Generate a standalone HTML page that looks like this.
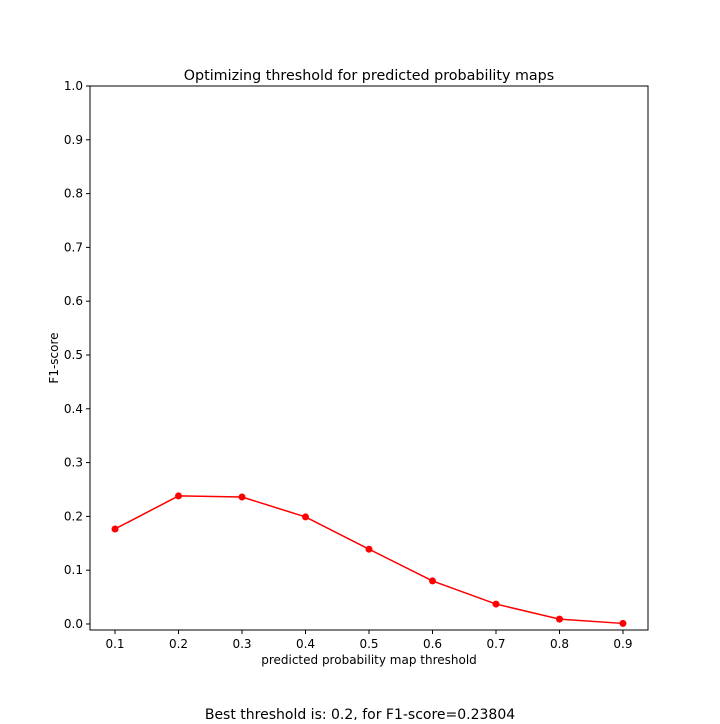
<!DOCTYPE html>
<html><head><meta charset="utf-8"><style>
body{margin:0;background:#fff;width:720px;height:720px;overflow:hidden;font-family:"DejaVu Sans","Liberation Sans",sans-serif;}
</style></head><body>
<svg id="chart" width="720" height="720" xmlns="http://www.w3.org/2000/svg" font-family="DejaVu Sans, Liberation Sans, sans-serif">
<rect width="720" height="720" fill="#fff"/>
<text x="369" y="80" font-size="14.3" text-anchor="middle">Optimizing threshold for predicted probability maps</text>
<g id="plot"></g>
<text x="369" y="664" font-size="12" text-anchor="middle">predicted probability map threshold</text>
<text x="58" y="358" font-size="12" text-anchor="middle" transform="rotate(-90 58 358)">F1-score</text>
<text x="360" y="720" font-size="14" text-anchor="middle" dy="-1">Best threshold is: 0.2, for F1-score=0.23804</text>
</svg>
<script>
const thresholds=[0.1,0.2,0.3,0.4,0.5,0.6,0.7,0.8,0.9];
const f1Scores=[0.1766,0.238,0.236,0.199,0.139,0.080,0.037,0.009,0.001];
const xTicks=[0.1,0.2,0.3,0.4,0.5,0.6,0.7,0.8,0.9];
const yTicks=[0.0,0.1,0.2,0.3,0.4,0.5,0.6,0.7,0.8,0.9,1.0];
const L=90,R=648,T=86,B=630;
const xMin=0.0606,xMax=0.9394,yMin=-0.0112,yMax=1.0;
const xs=v=>L+(v-xMin)/(xMax-xMin)*(R-L);
const ys=v=>B-(v-yMin)/(yMax-yMin)*(B-T);
const NS="http://www.w3.org/2000/svg";
const g=document.getElementById('plot');
function mk(tag,attrs){const e=document.createElementNS(NS,tag);for(const k in attrs)e.setAttribute(k,attrs[k]);g.appendChild(e);return e;}
const frame=mk('rect',{x:L,y:T,width:R-L,height:B-T,fill:'none',stroke:'#000','stroke-width':1});


xTicks.forEach(v=>{
  const t=mk('line',{x1:xs(v),x2:xs(v),y1:B,y2:B+4,stroke:'#000'});
  
  
  const l=mk('text',{x:xs(v),y:B+18,'font-size':12,'text-anchor':'middle'});
  l.textContent=v.toFixed(1);
  
  
});
yTicks.forEach(v=>{
  const t=mk('line',{x1:L-4,x2:L,y1:ys(v),y2:ys(v),stroke:'#000'});
  
  
  const l=mk('text',{x:L-7,y:ys(v)+4,'font-size':12,'text-anchor':'end'});
  l.textContent=v.toFixed(1);
  
  
});
const line=mk('polyline',{points:thresholds.map((t,i)=>xs(t)+','+ys(f1Scores[i])).join(' '),fill:'none',stroke:'#ff0000','stroke-width':1.5});


thresholds.forEach((t,i)=>{
  const c=mk('circle',{cx:xs(t),cy:ys(f1Scores[i]),r:3.5,fill:'#ff0000'});
  
  
});
</script>
</body></html>
